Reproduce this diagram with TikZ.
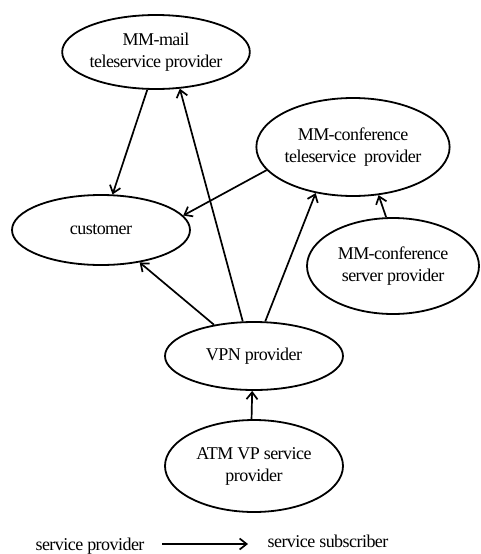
\documentclass[tikz,border=0pt]{standalone}
\usepackage{fontspec}
\setmainfont{Liberation Serif}[LetterSpace=-3]
\usetikzlibrary{shapes.geometric,arrows.meta}
\tikzset{
  ell/.style={ellipse, draw, line width=1.8pt, inner sep=0pt, align=center,
    font=\fontsize{18}{22}\selectfont},
  arr/.style={line width=1.7pt, -{Straight Barb[length=7pt,width=11pt,line width=1.7pt]}},
  lbl/.style={inner sep=0pt, font=\fontsize{18}{22}\selectfont}
}
\begin{document}
\begin{tikzpicture}[x=1pt,y=-1pt]
\useasboundingbox (0,0) rectangle (481,554);
\node[ell, minimum width=148, minimum height=74] (mail) at (156,52) {MM-mail\\teleservice provider};
\node[ell, minimum width=180, minimum height=98] (tele) at (353,147) {MM-conference\\teleservice\ \ provider};
\node[ell, minimum width=178, minimum height=70] (cust) at (101,230) {customer};
\node[ell, minimum width=172, minimum height=96] (serv) at (393,266) {MM-conference\\server provider};
\node[ell, minimum width=178, minimum height=68] (vpn) at (254,356) {VPN provider};
\node[ell, minimum width=178, minimum height=92] (atm) at (254,466) {ATM VP service\\provider};

\draw[arr] (mail.257.6) -- (cust.72.5);
\draw[arr] (vpn.108) -- (mail.303);
\draw[arr] (tele.195) -- (cust.10.5);
\draw[arr] (vpn.142.5) -- (cust.320);
\draw[arr] (vpn.72.5) -- (tele.231.5);
\draw[arr] (serv.98) -- (tele.298);
\draw[arr] (atm.93) -- (vpn.267);

\node[lbl] (sp) at (90,546) {service provider};
\node[lbl] (ss) at (328,541) {service subscriber};
\coordinate (la) at (162,544);
\coordinate (lb) at (248,544);
\draw[arr] (la) -- (lb);
\end{tikzpicture}
\end{document}
